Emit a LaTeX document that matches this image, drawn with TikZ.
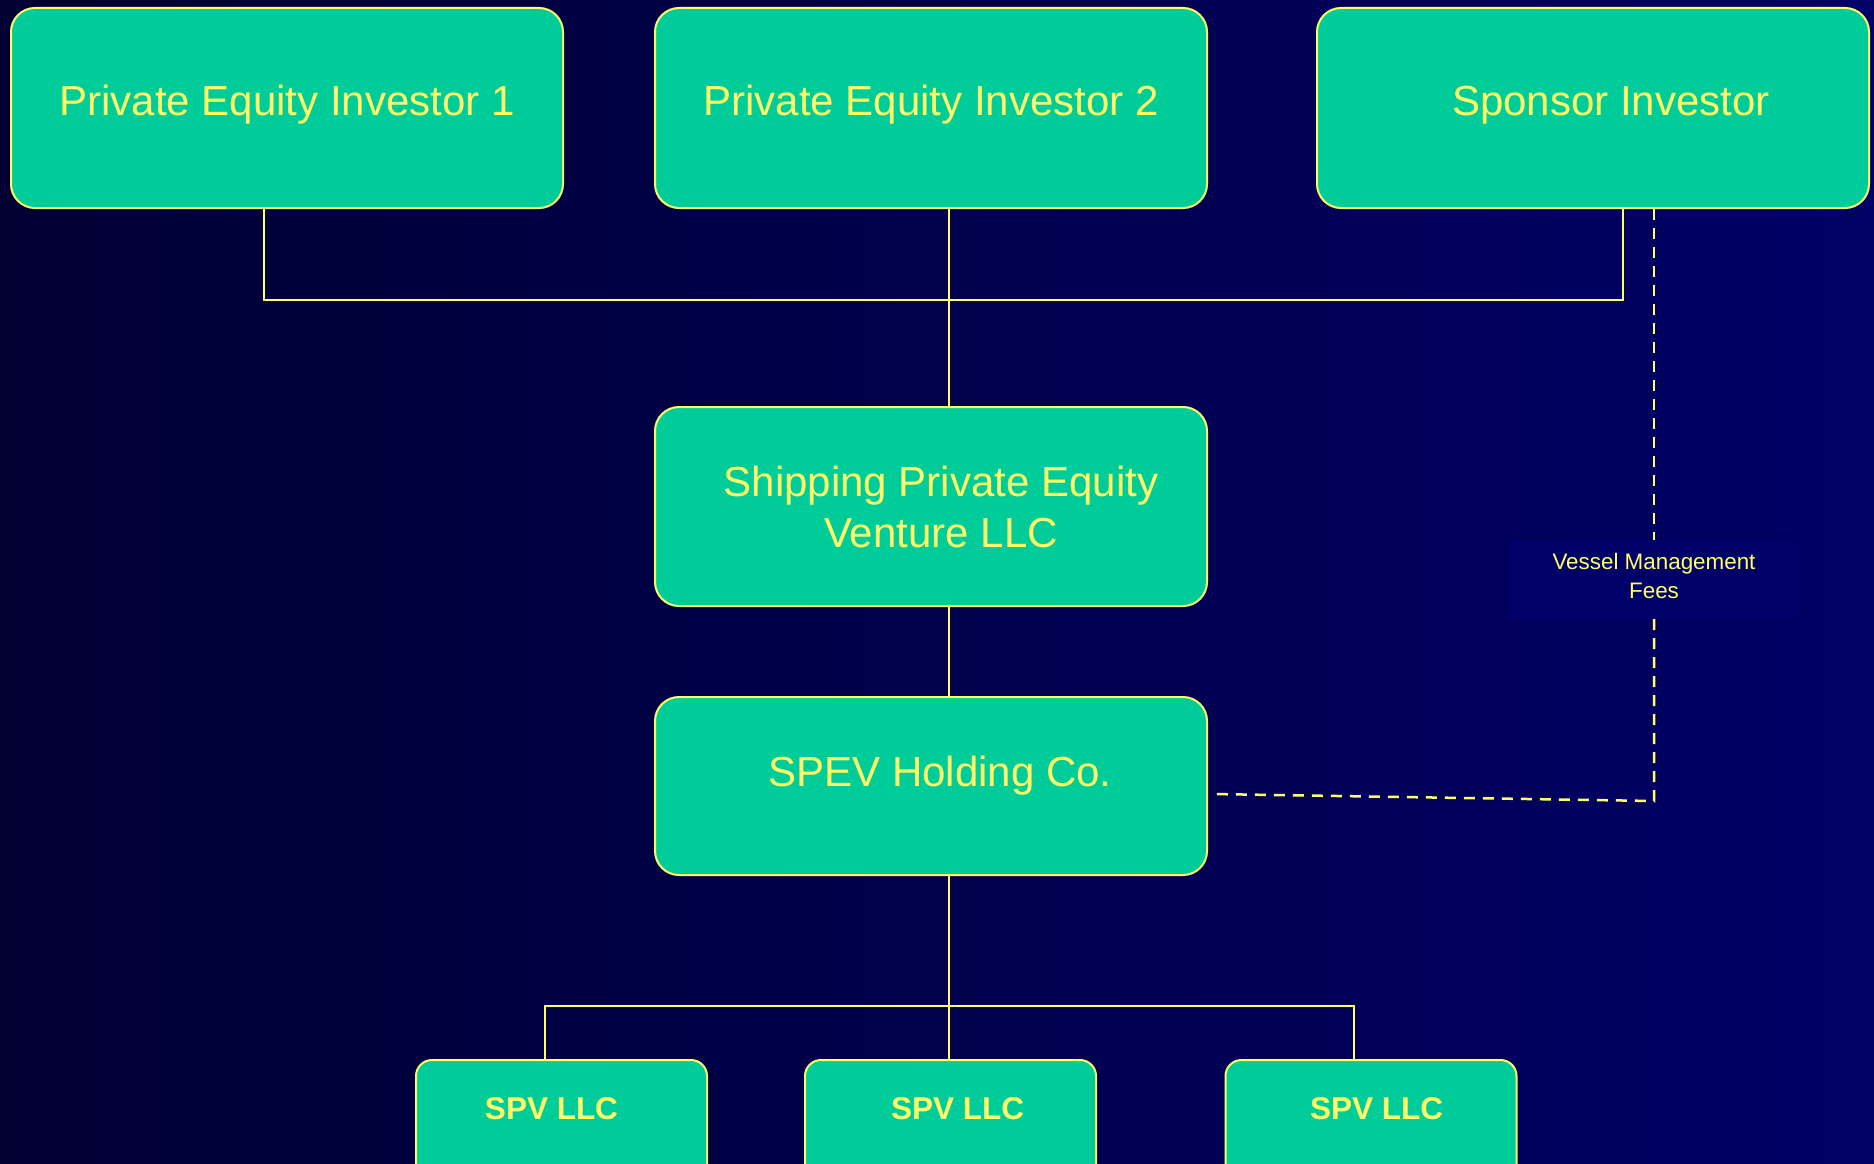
\documentclass[tikz,border=0pt]{standalone}
\usepackage{fontspec}
\setmainfont{Liberation Sans}
\definecolor{bgleft}{RGB}{0,0,51}
\definecolor{bgright}{RGB}{0,0,102}
\definecolor{boxfill}{RGB}{0,204,153}
\definecolor{ylw}{RGB}{255,255,102}
\definecolor{feebg}{RGB}{0,0,104}
\begin{document}
\begin{tikzpicture}[x=1pt,y=-1pt,
  box/.style={draw=ylw, line width=2pt, fill=boxfill, rounded corners=24pt,
    minimum width=552pt, inner sep=0pt, text=ylw, align=center,
    font=\fontsize{42}{50.7}\selectfont},
  spvbox/.style={draw=ylw, line width=2pt, fill=boxfill, rounded corners=16pt,
    minimum width=291pt, minimum height=150pt, inner sep=0pt, text=ylw,
    font=\fontsize{31.5}{36}\selectfont\bfseries, text height=12pt, text depth=43.4pt},
  link/.style={draw=ylw, line width=2.5pt},
  feelink/.style={draw=ylw, line width=2.5pt, dash pattern=on 11pt off 8pt}]
  % page and background
  \clip (0,0) rectangle (1874,1164);
  \shade[left color=bgleft, right color=bgright] (0,0) rectangle (1874,1164);

  % investors
  \node[box, minimum height=200pt, text height=30pt, text depth=16pt] (pe1) at (287,108) {Private Equity Investor 1};
  \node[box, minimum height=200pt, text height=30pt, text depth=16pt] (pe2) at (931,108) {Private Equity Investor 2};
  \node[box, minimum height=200pt, text height=30pt, text depth=16pt] (sp) at (1593,108) {\hspace*{36pt}Sponsor Investor};

  % venture and holding company
  \node[box, minimum height=199pt, text height=81pt, text depth=0pt] (spev) at (931,506.5)
    {\hspace*{20pt}Shipping Private Equity\\\hspace*{20pt}Venture LLC};
  \node[box, minimum height=178pt, text height=20pt, text depth=20pt] (hold) at (931,786) {\hspace*{18pt}SPEV Holding Co.};

  % vessel companies
  \node[spvbox] (spv1) at (561.5,1135) {\hspace*{-20pt}SPV LLC};
  \node[spvbox] (spv2) at (950.5,1135) {\hspace*{14pt}SPV LLC};
  \node[spvbox] (spv3) at (1371,1135) {\hspace*{11pt}SPV LLC};

  % management fee label
  \node[fill=feebg, minimum width=290pt, minimum height=79pt, inner sep=0pt, text=ylw, align=center,
        font=\fontsize{22.4}{29}\selectfont, text height=37pt, text depth=0pt] (fees) at (1654,579.5)
    {Vessel Management\\Fees};

  % bus coordinates
  \coordinate (b1) at (264,300);
  \coordinate (b2) at (949,300);
  \coordinate (b3) at (1623,300);
  \coordinate (c1) at (545,1006);
  \coordinate (c2) at (949,1006);
  \coordinate (c3) at (1354,1006);
  \coordinate (fcorner) at (1654,801);
  \coordinate (fend) at (1211,794);

  % ownership lines
  \draw[link] (b1 |- pe1.south) -- (b1) -- (b3) -- (b3 |- sp.south);
  \draw[link] (b2 |- pe2.south) -- (b2 |- spev.north);
  \draw[link] (b2 |- spev.south) -- (b2 |- hold.north);
  \draw[link] (b2 |- hold.south) -- (b2 |- spv2.north);
  \draw[link] (c1 |- spv1.north) -- (c1) -- (c3) -- (c3 |- spv3.north);

  % fee flow
  \draw[feelink] (fees.north |- sp.south) -- (fees.north);
  \draw[feelink] (fees.south) -- (fcorner) -- (fend);
\end{tikzpicture}
\end{document}
